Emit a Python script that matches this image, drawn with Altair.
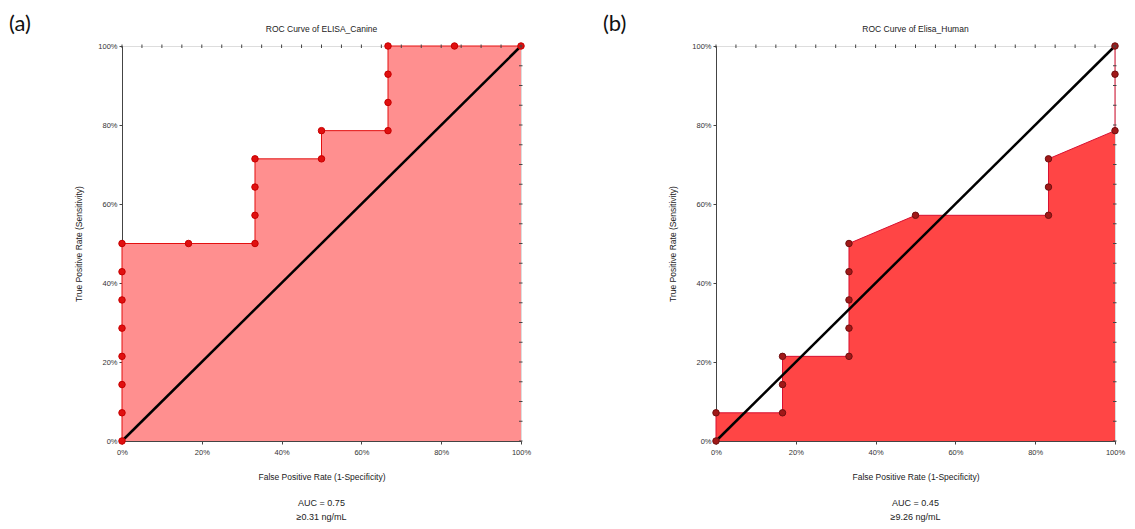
import altair as alt
import pandas as pd

# Panel (a): ELISA_Canine
fpr_a = [0, 0, 0, 0, 0, 0, 0, 0, 16.67, 33.33, 33.33, 33.33, 33.33, 50, 50, 66.67, 66.67, 66.67, 66.67, 83.33, 100]
tpr_a = [0, 7.14, 14.29, 21.43, 28.57, 35.71, 42.86, 50, 50, 50, 57.14, 64.29, 71.43, 71.43, 78.57, 78.57, 85.71, 92.86, 100, 100, 100]

# Panel (b): Elisa_Human
fpr_b = [0, 0, 16.67, 16.67, 16.67, 33.33, 33.33, 33.33, 33.33, 33.33, 50, 83.33, 83.33, 83.33, 100, 100, 100]
tpr_b = [0, 7.14, 7.14, 14.29, 21.43, 21.43, 28.57, 35.71, 42.86, 50, 57.14, 57.14, 64.29, 71.43, 78.57, 92.86, 100]

diag_x = [0, 100]
diag_y = [0, 100]

tick_values = [i * 5 for i in range(21)]

FONT = "Liberation Sans"
W, H = 399, 395
AX = "#444"


def panel(fpr, tpr, title, letter, auc, cutoff, fill, stroke, pt_fill, pt_stroke):
    df = pd.DataFrame({"fpr": fpr, "tpr": tpr, "i": list(range(len(fpr)))})
    diag = pd.DataFrame({"fpr": diag_x, "tpr": diag_y})
    ticks = pd.DataFrame({"v": tick_values})
    xs = alt.Scale(domain=[0, 100], nice=False, zero=False)
    ys = alt.Scale(domain=[0, 100], nice=False, zero=False)
    lab = "datum.value % 20 === 0 ? datum.value + '%' : ''"
    xax = alt.Axis(values=tick_values, labelExpr=lab, title="False Positive Rate (1-Specificity)",
                   tickSize=3, domainColor=AX, tickColor=AX, labelFontSize=7.5,
                   titleFontSize=8.5, titleFontWeight="normal", titlePadding=17, grid=False,
                   labelColor="#333", titleColor="#222", labelFont=FONT, titleFont=FONT,
                   labelPadding=4, labelFlush=False)
    yax = alt.Axis(values=tick_values, labelExpr=lab, title="True Positive Rate (Sensitivity)",
                   tickSize=3, domainColor=AX, tickColor=AX, labelFontSize=7.5,
                   titleFontSize=8.5, titleFontWeight="normal", titlePadding=14, grid=False,
                   labelColor="#333", titleColor="#222", labelFont=FONT, titleFont=FONT,
                   labelFlush=False)
    base = alt.Chart(df)
    area = base.mark_area(color=fill, opacity=1).encode(
        x=alt.X("fpr:Q", scale=xs, axis=xax),
        y=alt.Y("tpr:Q", scale=ys, axis=yax),
        y2=alt.datum(0),
    )
    line = base.mark_line(color=stroke, strokeWidth=1).encode(
        x=alt.X("fpr:Q"), y=alt.Y("tpr:Q"), order=alt.Order("i:Q"))
    dline = alt.Chart(diag).mark_line(color="black", strokeWidth=2.5).encode(
        x=alt.X("fpr:Q"), y=alt.Y("tpr:Q"))
    pts = base.mark_point(filled=True, size=42, fill=pt_fill, stroke=pt_stroke,
                          strokeWidth=1, opacity=1).encode(
        x=alt.X("fpr:Q"), y=alt.Y("tpr:Q"))
    top_ticks = alt.Chart(ticks).mark_rule(color=AX, strokeWidth=1).encode(
        x=alt.X("v:Q"), y=alt.value(-1.5), y2=alt.value(2))
    right_ticks = alt.Chart(ticks).mark_rule(color=AX, strokeWidth=1).encode(
        y=alt.Y("v:Q"), x=alt.value(W + 1.5), x2=alt.value(W - 2))
    letter_t = alt.Chart(pd.DataFrame({"t": [letter]})).mark_text(
        align="left", baseline="middle", fontSize=22, font="Lato", color="#111").encode(
        text="t:N", x=alt.value(-113), y=alt.value(-22))
    title_t = alt.Chart(pd.DataFrame({"t": [title]})).mark_text(
        align="center", baseline="middle", fontSize=8.5, font=FONT, color="#222").encode(
        text="t:N", x=alt.value(W / 2), y=alt.value(-17))
    auc_t = alt.Chart(pd.DataFrame({"t": [auc]})).mark_text(
        align="center", baseline="middle", fontSize=9, font=FONT, color="#222").encode(
        text="t:N", x=alt.value(W / 2), y=alt.value(H + 62))
    cut_t = alt.Chart(pd.DataFrame({"t": [cutoff]})).mark_text(
        align="center", baseline="middle", fontSize=9, font=FONT, color="#222").encode(
        text="t:N", x=alt.value(W / 2), y=alt.value(H + 76))
    ch = alt.layer(area, line, dline, pts, top_ticks, right_ticks,
                   letter_t, title_t, auc_t, cut_t).properties(width=W, height=H)
    return ch


pa = panel(fpr_a, tpr_a, "ROC Curve of ELISA_Canine", "(a)", "AUC = 0.75", "≥0.31 ng/mL",
           "#FF8F8F", "#E31010", "#E01010", "#C80000")
pb = panel(fpr_b, tpr_b, "ROC Curve of Elisa_Human", "(b)", "AUC = 0.45", "≥9.26 ng/mL",
           "#FF4545", "#D81030", "#A01818", "#701010")

chart = alt.hconcat(pa, pb, spacing=70,
                    padding={"top": 4, "left": 0, "right": 0, "bottom": 0}).configure_view(
    stroke=AX).configure(background="white")
chart.save("out.html", embed_options={"renderer": "svg", "actions": False})
